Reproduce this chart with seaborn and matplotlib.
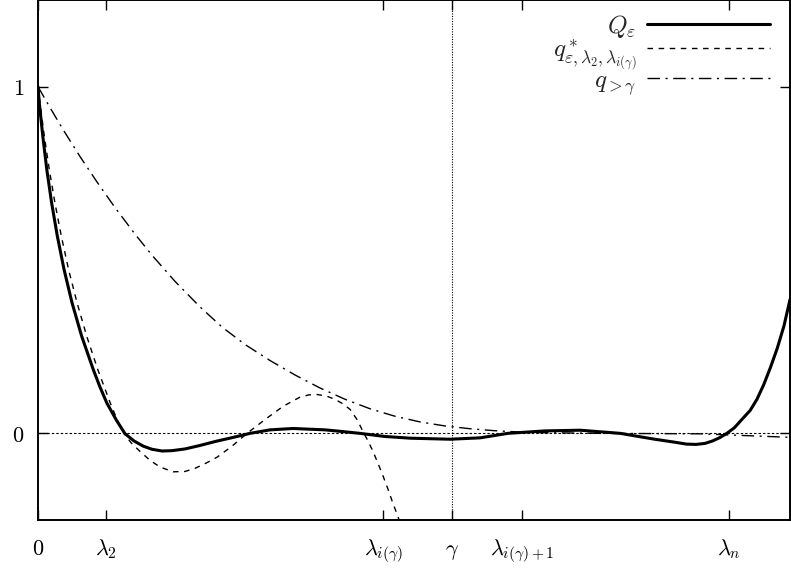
import numpy as np
import pandas as pd
import matplotlib
matplotlib.use('Agg')
import matplotlib.pyplot as plt
import seaborn as sns

# x axis ticks (positions in units of the plotted interval)
TICK_POS = [0.0, 0.090, 0.459, 0.551, 0.644, 0.919]
TICK_LABELS = [r'$0$', r'$\lambda_2$', r'$\lambda_{i(\gamma)}$', r'$\gamma$',
               r'$\lambda_{i(\gamma)+1}$', r'$\lambda_n$']
GAMMA = 0.551

# Q_eps (solid)
q_eps_x = [0.0, 0.0017, 0.0064, 0.0117, 0.0181, 0.0257, 0.0346, 0.0452, 0.0581,
           0.0735, 0.082, 0.0914, 0.1045, 0.1157, 0.1277, 0.140, 0.1516, 0.165,
           0.178, 0.1955, 0.2154, 0.2367, 0.259, 0.282, 0.3085, 0.339, 0.382,
           0.4056, 0.428, 0.461, 0.495, 0.548, 0.588, 0.625, 0.674, 0.721, 0.774,
           0.820, 0.848, 0.862, 0.875, 0.887, 0.897, 0.907, 0.916, 0.926, 0.936,
           0.947, 0.956, 0.965, 0.974, 0.983, 0.992, 1.0]
q_eps_y = [1.0, 0.953, 0.857, 0.761, 0.665, 0.569, 0.473, 0.377, 0.280,
           0.184, 0.136, 0.088, 0.037, -0.001, -0.022, -0.037, -0.046, -0.051,
           -0.050, -0.045, -0.035, -0.023, -0.012, 0.0, 0.010, 0.014, 0.010,
           0.005, 0.0, -0.009, -0.014, -0.017, -0.013, 0.0, 0.007, 0.009, 0.0,
           -0.017, -0.026, -0.031, -0.032, -0.029, -0.022, -0.012, 0.0, 0.016,
           0.040, 0.066, 0.098, 0.140, 0.190, 0.245, 0.310, 0.386]

# q*_{eps, lambda_2, lambda_i(gamma)} (dashed)
q_star_x = [0.0, 0.0027, 0.0084, 0.015, 0.0225, 0.031, 0.0406, 0.0519, 0.0648,
            0.0795, 0.096, 0.1057, 0.1144, 0.1237, 0.1356, 0.149, 0.1622, 0.1795,
            0.1955, 0.2088, 0.2234, 0.238, 0.258, 0.278, 0.302, 0.326, 0.348,
            0.3604, 0.371, 0.383, 0.395, 0.4056, 0.415, 0.4242, 0.432, 0.4388,
            0.4455, 0.452, 0.459, 0.4654, 0.472, 0.479, 0.484]
q_star_y = [1.0, 0.953, 0.857, 0.761, 0.665, 0.569, 0.473, 0.377, 0.280,
            0.184, 0.088, 0.037, 0.0, -0.027, -0.052, -0.078, -0.097, -0.111,
            -0.110, -0.101, -0.086, -0.069, -0.037, 0.0, 0.040, 0.078, 0.104,
            0.111, 0.112, 0.108, 0.098, 0.085, 0.069, 0.040, 0.006, -0.022,
            -0.052, -0.086, -0.124, -0.161, -0.202, -0.242, -0.277]

# q_{>gamma} (dash-dot)
q_gt_x = [0.0, 0.016, 0.0332, 0.0559, 0.0781, 0.1024, 0.129, 0.1516, 0.1822,
          0.2154, 0.2447, 0.2753, 0.3085, 0.3418, 0.375, 0.4082, 0.4415, 0.4747,
          0.508, 0.5412, 0.5745, 0.6077, 0.6543, 0.7473, 0.8803, 1.0]
q_gt_y = [1.0, 0.9395, 0.8767, 0.7983, 0.7262, 0.6513, 0.5746, 0.5138, 0.4383,
          0.3648, 0.3066, 0.2562, 0.2101, 0.1683, 0.1308, 0.0983, 0.0709, 0.0493,
          0.0329, 0.0213, 0.0133, 0.0075, 0.0023, 0.0, -0.0014, -0.0115]

sns.set_style('ticks')
plt.rcParams['mathtext.fontset'] = 'cm'
plt.rcParams['font.family'] = ['DejaVu Serif']

fig = plt.figure(figsize=(7.91, 5.69), dpi=100)
ax = fig.add_axes([38 / 791, 49 / 569, 752 / 791, 520 / 569])

ax.axhline(0, color='black', lw=0.8, ls=(0, (2.2, 1.8)), zorder=1)
ax.axvline(GAMMA, color='black', lw=0.8, ls=(0, (1, 1.3)), zorder=1)

sns.lineplot(x=q_eps_x, y=q_eps_y, ax=ax, color='black', lw=2.2,
             label=r'$Q_\varepsilon$', sort=False)
sns.lineplot(x=q_star_x, y=q_star_y, ax=ax, color='black', lw=1.0,
             ls=(0, (4, 4)), label=r'$q^*_{\varepsilon,\lambda_2,\lambda_{i(\gamma)}}$',
             sort=False)
sns.lineplot(x=q_gt_x, y=q_gt_y, ax=ax, color='black', lw=1.0,
             ls=(0, (9, 4, 1.5, 4)), label=r'$q_{>\gamma}$', sort=False)

ax.set_xlim(0, 1)
ax.set_ylim(-0.25, 1.25)
ax.set_xticks(TICK_POS)
ax.set_xticklabels(TICK_LABELS)
ax.set_yticks([0, 1])
ax.set_yticklabels([r'$0$', r'$1$'])
ax.tick_params(direction='in', length=7, width=1, top=True, right=True,
               labelsize=16, colors='black')
ax.tick_params(axis='x', pad=25)
ax.tick_params(axis='y', pad=10)
plt.setp(ax.get_xticklabels(), va='baseline')
for sp in ax.spines.values():
    sp.set_linewidth(1.4)
    sp.set_color('black')

ax.legend(loc='upper right', bbox_to_anchor=(0.99, 1.0), frameon=False,
          markerfirst=False, handlelength=4.9, handletextpad=0.45,
          borderaxespad=0.1, labelspacing=-0.1, fontsize=18)

fig.savefig('out.png', dpi=100)
